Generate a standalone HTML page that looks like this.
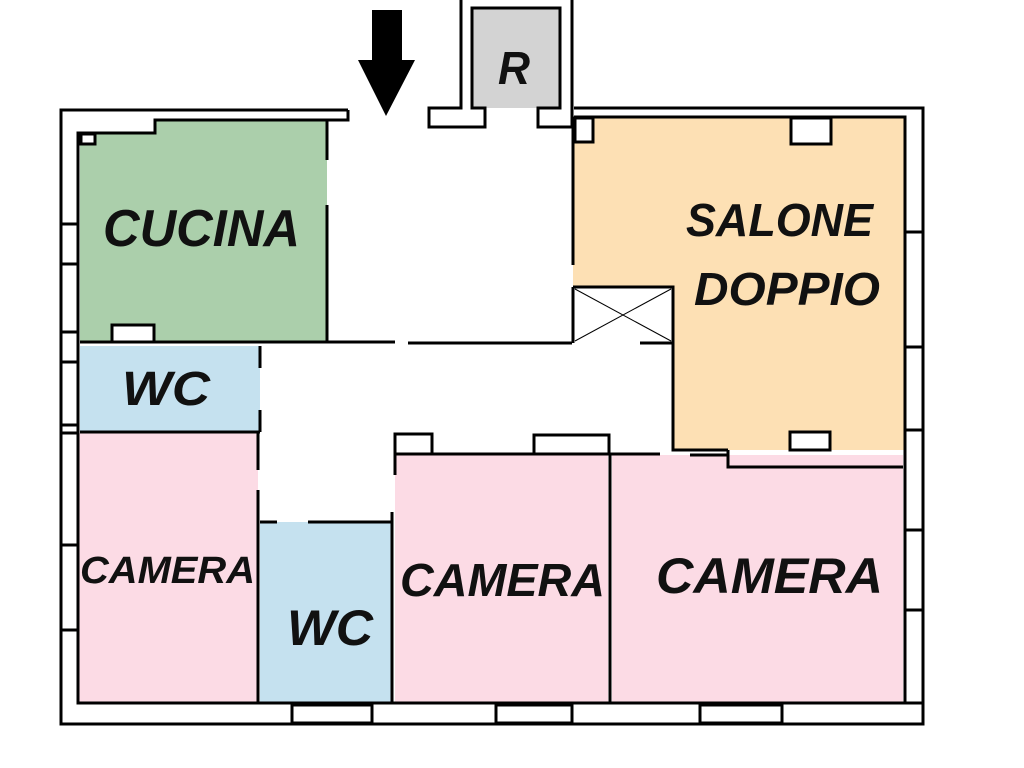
<!DOCTYPE html>
<html><head><style>html,body{margin:0;padding:0;background:#fff}svg{display:block}</style></head>
<body>
<svg width="1024" height="768" viewBox="0 0 1024 768" xmlns="http://www.w3.org/2000/svg">
<g stroke="none">
<rect x="155" y="120" width="172" height="222" fill="#abcfab"/>
<rect x="80" y="133" width="100" height="209" fill="#abcfab"/>
<rect x="80" y="346" width="180" height="86" fill="#c5e1ef"/>
<rect x="78" y="433" width="180" height="270" fill="#fcdbe5"/>
<rect x="260" y="522" width="132" height="181" fill="#c5e1ef"/>
<rect x="395" y="454" width="213" height="249" fill="#fcdbe5"/>
<rect x="612" y="455" width="291" height="248" fill="#fcdbe5"/>
<rect x="573" y="117" width="332" height="170" fill="#fde0b4"/>
<rect x="673" y="285" width="232" height="165" fill="#fde0b4"/>
<rect x="472" y="8" width="88" height="100" fill="#d3d3d3"/>
<rect x="573" y="287" width="100" height="56" fill="#fff"/>
</g>
<g fill="none" stroke="#000" stroke-width="3">
<path d="M348 110 H61 V724 H923 V108 H574"/>
<path d="M348 110 V120 H155 V133 H78 V703 H905 V117 H574"/>
<path d="M461 0 V108 H429 V127 H485 V108 H472 V8 H560 V108 H538 V127 H572 V108 V0"/>
<path d="M327 120 V160 M327 205 V342 M80 342 H360 M395 342 H345"/>
<rect x="112" y="325" width="42" height="17" fill="#fff"/>
<rect x="81" y="134" width="14" height="10" fill="#fff"/>
<path d="M80 432 H260 M260 346 V368 M260 410 V432"/>
<path d="M408 343 H572 M640 343 H672"/>
<path d="M573 117 V265 M573 287 H673 V450 H728 M573 287 V343"/>
<rect x="575" y="118" width="18" height="24" fill="#fff"/>
<rect x="791" y="118" width="40" height="26" fill="#fff"/>
<rect x="790" y="432" width="40" height="18" fill="#fff"/>
<path d="M728 450 V467 H903"/>
<path d="M258 433 V470 M258 490 V703 M260 522 H277 M308 522 H392 M392 512 V703"/>
<path d="M395 454 V475 M395 454 H660 M610 454 V703 M690 455 H728"/>
<rect x="395" y="434" width="37" height="20" fill="#fff"/>
<rect x="534" y="435" width="75" height="19" fill="#fff"/>
<rect x="61" y="224" width="17" height="40" fill="#fff"/>
<rect x="61" y="332" width="17" height="30" fill="#fff"/>
<rect x="61" y="425" width="17" height="8" fill="#fff"/>
<rect x="61" y="545" width="17" height="85" fill="#fff"/>
<rect x="905" y="232" width="18" height="115" fill="#fff"/>
<rect x="905" y="430" width="18" height="100" fill="#fff"/>
<rect x="905" y="610" width="18" height="93" fill="#fff"/>
<rect x="292" y="705" width="80" height="18" fill="#fff"/>
<rect x="496" y="705" width="76" height="18" fill="#fff"/>
<rect x="700" y="705" width="82" height="18" fill="#fff"/>
</g>
<g stroke="#000" stroke-width="1">
<line x1="575" y1="289" x2="671" y2="341"/><line x1="575" y1="341" x2="671" y2="289"/>
</g>
<polygon points="372,10 402,10 402,60 415,60 386,116 358,60 372,60" fill="#000"/>
<g font-family="Liberation Sans, sans-serif" font-weight="bold" font-style="italic" fill="#111">
<text x="103" y="246" font-size="52" textLength="197" lengthAdjust="spacingAndGlyphs">CUCINA</text>
<text x="122" y="405" font-size="48" textLength="88" lengthAdjust="spacingAndGlyphs">WC</text>
<text x="80" y="583" font-size="38" textLength="175" lengthAdjust="spacingAndGlyphs">CAMERA</text>
<text x="287" y="645" font-size="50" textLength="86" lengthAdjust="spacingAndGlyphs">WC</text>
<text x="400" y="596" font-size="46" textLength="205" lengthAdjust="spacingAndGlyphs">CAMERA</text>
<text x="656" y="593" font-size="50" textLength="227" lengthAdjust="spacingAndGlyphs">CAMERA</text>
<text x="686" y="236" font-size="46" textLength="187" lengthAdjust="spacingAndGlyphs">SALONE</text>
<text x="694" y="305" font-size="46" textLength="186" lengthAdjust="spacingAndGlyphs">DOPPIO</text>
<text x="498" y="84" font-size="46" textLength="32" lengthAdjust="spacingAndGlyphs">R</text>
</g>
</svg>
</body></html>
